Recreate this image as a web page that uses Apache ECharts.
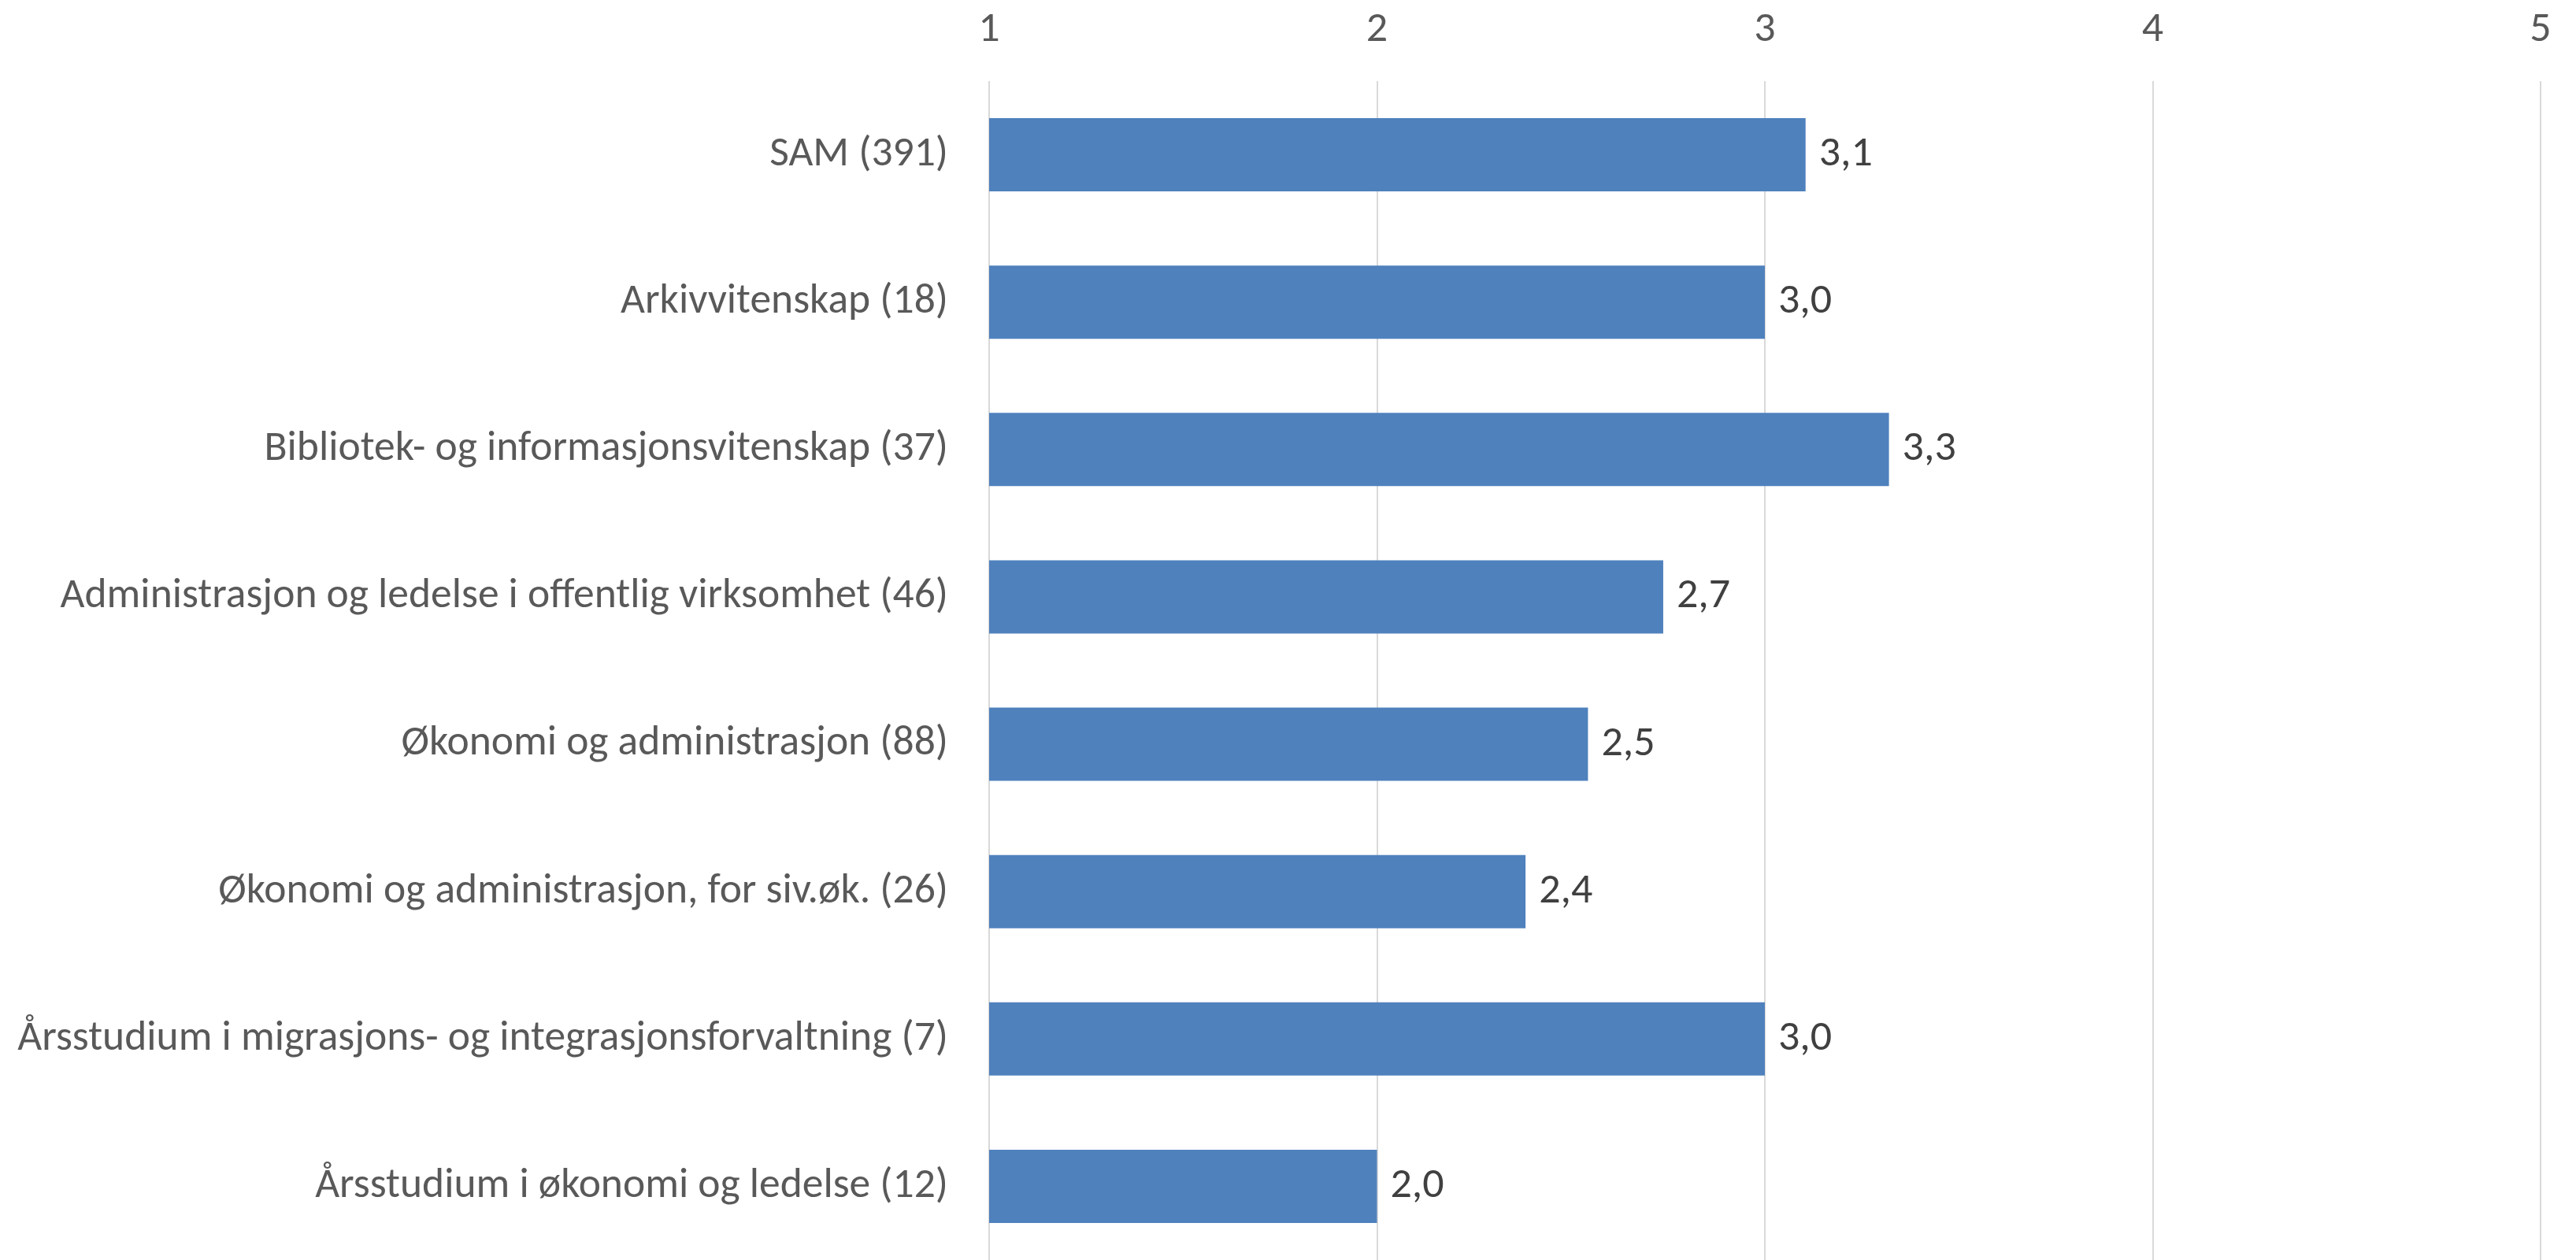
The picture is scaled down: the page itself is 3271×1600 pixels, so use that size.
<!DOCTYPE html>
<html>
<head>
<meta charset="utf-8">
<script src="https://cdn.jsdelivr.net/npm/echarts@6/dist/echarts.min.js"></script>
<style>
html,body{margin:0;padding:0;background:#fff;}
#c{width:3271px;height:1600px;}
</style>
</head>
<body>
<div id="c"></div>
<script>
const categories = [
  "SAM (391)",
  "Arkivvitenskap (18)",
  "Bibliotek- og informasjonsvitenskap (37)",
  "Administrasjon og ledelse i offentlig virksomhet (46)",
  "Økonomi og administrasjon (88)",
  "Økonomi og administrasjon, for siv.øk. (26)",
  "Årsstudium i migrasjons- og integrasjonsforvaltning (7)",
  "Årsstudium i økonomi og ledelse (12)"
];
const values = [3.105, 3.0, 3.32, 2.738, 2.544, 2.383, 3.0, 2.0];
const axisMin = 1, axisMax = 5, axisInterval = 1;

const FONT = "Carlito, 'Liberation Sans Narrow', 'Open Sans', sans-serif";
const chart = echarts.init(document.getElementById('c'), null, {renderer:'canvas'});
chart.setOption({
  animation:false,
  backgroundColor:'#ffffff',
  grid:{left:1256, right:45, top:103, height:1503, containLabel:false},
  xAxis:{
    type:'value', position:'top', min:axisMin, max:axisMax, interval:axisInterval,
    axisLine:{show:false}, axisTick:{show:false},
    splitLine:{show:true, lineStyle:{color:'#d9d9d9', width:2}},
    axisLabel:{color:'#595959', fontSize:54, fontFamily:FONT, margin:38,
      formatter:v=>String(v)}
  },
  yAxis:{
    type:'category', data:categories, inverse:true,
    axisLine:{show:false}, axisTick:{show:false},
    axisLabel:{color:'#595959', fontSize:53.5, fontFamily:FONT, margin:52}
  },
  series:[{
    type:'bar', data:values, barWidth:93,
    itemStyle:{color:'#4f81bd'},
    label:{show:true, position:'right', distance:17, color:'#404040',
      fontSize:54, fontFamily:FONT,
      formatter:p=>p.value.toFixed(1).replace('.',',')}
  }]
});
</script>
</body>
</html>
